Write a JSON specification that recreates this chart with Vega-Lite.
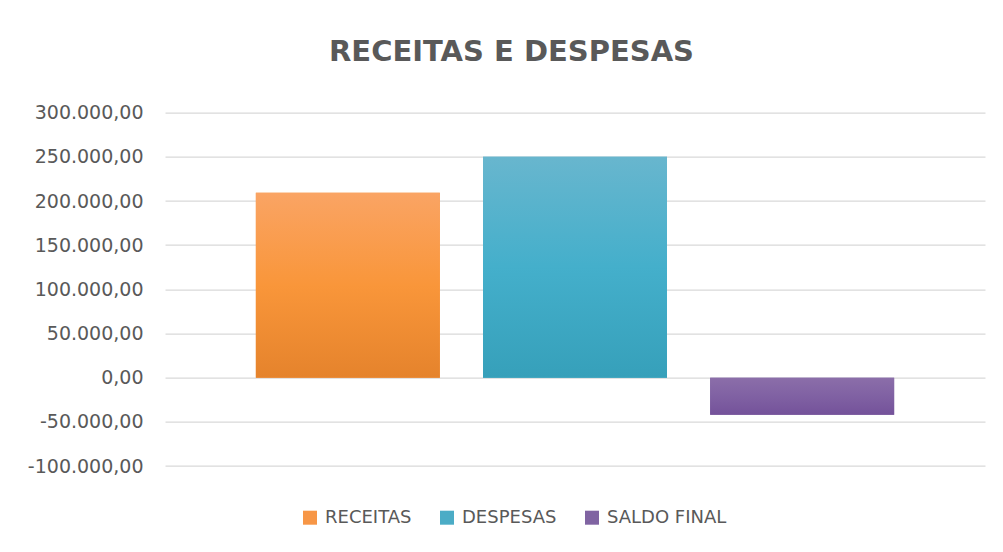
{
  "$schema": "https://vega.github.io/schema/vega-lite/v6.json",
  "autosize": "none",
  "width": 820,
  "height": 353.3,
  "padding": {"left": 165, "top": 112.7, "right": 18, "bottom": 86},
  "background": "#ffffff",
  "title": {
    "text": "RECEITAS E DESPESAS",
    "anchor": "middle",
    "frame": "group",
    "dx": -63.5,
    "baseline": "alphabetic",
    "offset": 14,
    "font": "DejaVu Sans",
    "fontWeight": "bold",
    "fontSize": 29,
    "color": "#595959"
  },
  "data": {
    "values": [
      {"serie": "RECEITAS", "valor": 209400},
      {"serie": "DESPESAS", "valor": 250000},
      {"serie": "SALDO FINAL", "valor": -42000}
    ]
  },
  "encoding": {
    "x": {
      "field": "serie",
      "type": "nominal",
      "axis": null,
      "scale": {"domain": ["RECEITAS", "DESPESAS", "SALDO FINAL"], "paddingInner": 0.19, "paddingOuter": 0.4}
    },
    "y": {
      "field": "valor",
      "type": "quantitative",
      "scale": {"domain": [-100000, 300000], "nice": false, "zero": false},
      "axis": {
        "title": null,
        "values": [-100000, -50000, 0, 50000, 100000, 150000, 200000, 250000, 300000],
        "format": ",.2f",
        "labelFont": "DejaVu Sans",
        "labelFontSize": 19,
        "labelColor": "#595959",
        "labelPadding": 22,
        "ticks": false,
        "domain": false,
        "grid": true,
        "gridColor": "#D9D9D9",
        "gridWidth": 1.3
      }
    }
  },
  "layer": [
    {
      "mark": {"type": "bar", "strokeWidth": 0},
      "encoding": {
        "color": {
          "field": "serie",
          "type": "nominal",
          "scale": {
            "domain": ["RECEITAS", "DESPESAS", "SALDO FINAL"],
            "range": ["#F79646", "#4BACC6", "#8064A2"]
          },
          "legend": {
            "title": null,
            "orient": "none",
            "direction": "horizontal",
            "legendX": 136,
            "legendY": 396,
            "symbolType": "square",
            "symbolSize": 196,
            "symbolStrokeWidth": 0,
            "labelFont": "DejaVu Sans",
            "labelFontSize": 18,
            "labelColor": "#595959",
            "labelOffset": 6,
            "columnPadding": 26
          }
        }
      }
    },
    {
      "transform": [{"filter": "datum.serie === 'RECEITAS'"}],
      "mark": {"type": "bar", "strokeWidth": 0, "color": {"gradient": "linear", "x1": 0, "y1": 0, "x2": 0, "y2": 1, "stops": [{"offset": 0, "color": "#FAA464"}, {"offset": 0.5, "color": "#F9963A"}, {"offset": 1, "color": "#E5832C"}]}}
    },
    {
      "transform": [{"filter": "datum.serie === 'DESPESAS'"}],
      "mark": {"type": "bar", "strokeWidth": 0, "color": {"gradient": "linear", "x1": 0, "y1": 0, "x2": 0, "y2": 1, "stops": [{"offset": 0, "color": "#68B6CE"}, {"offset": 0.5, "color": "#44AFCB"}, {"offset": 1, "color": "#36A0BA"}]}}
    },
    {
      "transform": [{"filter": "datum.serie === 'SALDO FINAL'"}],
      "mark": {"type": "bar", "strokeWidth": 0, "color": {"gradient": "linear", "x1": 0, "y1": 0, "x2": 0, "y2": 1, "stops": [{"offset": 0, "color": "#8B6EA9"}, {"offset": 0.5, "color": "#8061A3"}, {"offset": 1, "color": "#74529A"}]}}
    }
  ],
  "config": {
    "view": {"stroke": null},
    "locale": {
      "number": {"decimal": ",", "thousands": ".", "grouping": [3], "currency": ["R$ ", ""], "minus": "-"}
    }
  }
}
